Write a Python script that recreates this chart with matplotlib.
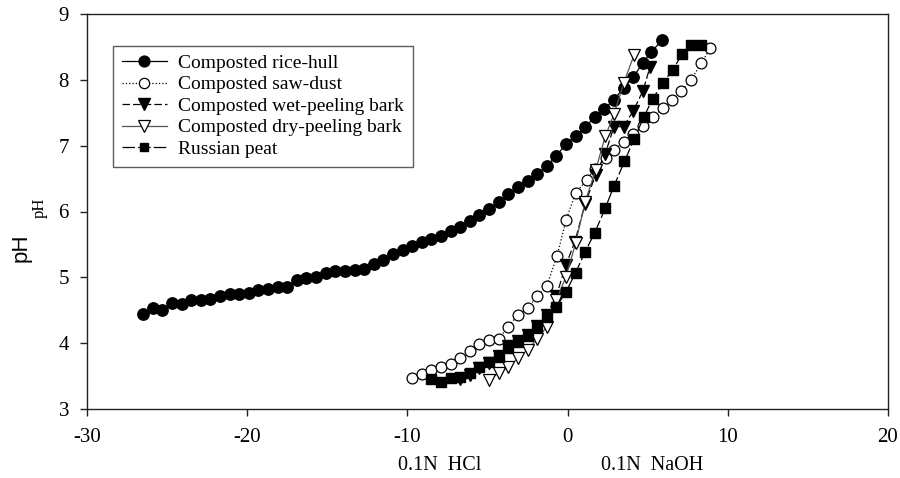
import matplotlib
matplotlib.use("Agg")
import matplotlib.pyplot as plt

# ---- data ----
rice_x = [-26.5, -25.9, -25.3, -24.7, -24.1, -23.5, -22.9, -22.3, -21.7, -21.1,
          -20.5, -19.9, -19.3, -18.7, -18.1, -17.5, -16.9, -16.3, -15.7, -15.1,
          -14.5, -13.9, -13.3, -12.7, -12.1, -11.5, -10.9, -10.3, -9.7, -9.1,
          -8.5, -7.9, -7.3, -6.7, -6.1, -5.5, -4.9, -4.3, -3.7, -3.1,
          -2.5, -1.9, -1.3, -0.7, -0.1, 0.5, 1.1, 1.7, 2.3, 2.9,
          3.5, 4.1, 4.7, 5.2, 5.9]
rice_y = [4.45, 4.53, 4.50, 4.61, 4.60, 4.65, 4.65, 4.67, 4.72, 4.75,
          4.75, 4.76, 4.81, 4.82, 4.86, 4.86, 4.96, 4.99, 5.01, 5.06,
          5.09, 5.09, 5.11, 5.13, 5.21, 5.27, 5.35, 5.41, 5.48, 5.54,
          5.58, 5.63, 5.70, 5.77, 5.86, 5.95, 6.04, 6.15, 6.26, 6.37,
          6.47, 6.57, 6.69, 6.85, 7.02, 7.15, 7.29, 7.43, 7.56, 7.70,
          7.88, 8.04, 8.26, 8.42, 8.60]

saw_x = [-9.7, -9.1, -8.5, -7.9, -7.3, -6.7, -6.1, -5.5, -4.9, -4.3,
         -3.7, -3.1, -2.5, -1.9, -1.3, -0.65, -0.1, 0.5, 1.2, 1.7,
         2.4, 2.9, 3.5, 4.1, 4.7, 5.3, 5.95, 6.5, 7.1, 7.7, 8.35, 8.9]
saw_y = [3.47, 3.53, 3.59, 3.64, 3.69, 3.78, 3.88, 3.98, 4.05, 4.07,
         4.25, 4.43, 4.53, 4.71, 4.87, 5.33, 5.87, 6.28, 6.48, 6.65,
         6.81, 6.94, 7.06, 7.18, 7.30, 7.43, 7.57, 7.70, 7.83, 8.00, 8.25, 8.48]

wet_x = [-6.7, -6.1, -5.5, -4.9, -4.3, -3.7, -3.1, -2.5, -1.9, -1.3,
         -0.7, -0.1, 0.45, 1.1, 1.75, 2.35, 2.9, 3.5, 4.1, 4.7, 5.15]
wet_y = [3.46, 3.52, 3.62, 3.70, 3.80, 3.95, 4.04, 4.13, 4.26, 4.43,
         4.72, 5.19, 5.54, 6.12, 6.56, 6.88, 7.29, 7.29, 7.53, 7.83, 8.20]

dry_x = [-4.9, -4.3, -3.7, -3.1, -2.5, -1.9, -1.3, -0.7, -0.1, 0.5,
         1.1, 1.75, 2.35, 2.9, 3.5, 4.15]
dry_y = [3.44, 3.55, 3.64, 3.77, 3.90, 4.06, 4.25, 4.65, 5.01, 5.52,
         6.15, 6.63, 7.14, 7.48, 7.95, 8.38]

peat_x = [-8.5, -7.9, -7.3, -6.7, -6.1, -5.5, -4.9, -4.3, -3.7, -3.1,
          -2.5, -1.9, -1.3, -0.7, -0.1, 0.5, 1.1, 1.7, 2.35, 2.9,
          3.55, 4.15, 4.75, 5.3, 5.95, 6.55, 7.15, 7.7, 8.3]
peat_y = [3.45, 3.41, 3.47, 3.49, 3.55, 3.64, 3.72, 3.79, 3.92, 4.02,
          4.11, 4.25, 4.39, 4.55, 4.78, 5.07, 5.39, 5.68, 6.05, 6.39,
          6.76, 7.10, 7.43, 7.71, 7.95, 8.15, 8.39, 8.53, 8.53]

labels = ["Composted rice-hull", "Composted saw-dust", "Composted wet-peeling bark",
          "Composted dry-peeling bark", "Russian peat"]
x_ticks = [-30, -20, -10, 0, 10, 20]
y_ticks = [3, 4, 5, 6, 7, 8, 9]

serif = ["Liberation Serif", "DejaVu Serif"]

fig = plt.figure(figsize=(9, 4.78), dpi=100)
ax = fig.add_axes([87 / 900, 1 - 409 / 478, (888 - 87) / 900, (409 - 14) / 478])

lw = 0.9
ax.plot(rice_x, rice_y, '-', color='black', lw=lw, marker='o', ms=8.2,
        mfc='black', mec='black', label=labels[0], zorder=3)
ax.plot(saw_x, saw_y, ':', color='black', lw=lw, marker='o', ms=7.8,
        mfc='white', mec='black', mew=0.9, label=labels[1], zorder=3)
ax.plot(wet_x, wet_y, color='black', lw=lw, dashes=(6, 2.5), marker='v', ms=8.5,
        mfc='black', mec='black', label=labels[2], zorder=4)
ax.plot(dry_x, dry_y, '-', color='#555555', lw=lw, marker='v', ms=8.5,
        mfc='white', mec='black', mew=0.9, label=labels[3], zorder=4)
ax.plot(peat_x, peat_y, color='black', lw=lw, dashes=(10, 2.5), marker='s', ms=6.8,
        mfc='black', mec='black', label=labels[4], zorder=4)

ax.set_xlim(-30, 20)
ax.set_ylim(3, 9)
ax.set_xticks(x_ticks)
ax.set_yticks(y_ticks)
ax.set_xticklabels([str(v) for v in x_ticks], fontfamily=serif, fontsize=15)
ax.set_yticklabels([str(v) for v in y_ticks], fontfamily=serif, fontsize=15)
ax.tick_params(axis='both', direction='out', length=5, width=1, color='#222222')
ax.tick_params(axis='x', pad=9)
ax.tick_params(axis='y', pad=8)
for s in ax.spines.values():
    s.set_linewidth(1.0)
    s.set_color('#222222')

leg = ax.legend(loc='upper left', bbox_to_anchor=(0.0325, 0.92), borderaxespad=0,
                prop={'family': serif, 'size': 14}, frameon=True, fancybox=False,
                handlelength=2.3, handletextpad=0.6, labelspacing=0.2,
                borderpad=0.45, markerscale=0.95)
leg.get_frame().set_edgecolor('#333333')
leg.get_frame().set_linewidth(1.0)

fig.text(21 / 900, 1 - 248 / 478, "pH", rotation=90, ha='center', va='center',
         fontsize=16, family=["Liberation Sans", "DejaVu Sans"])
fig.text(40 / 900, 1 - 208 / 478, "pH", rotation=90, ha='center', va='center',
         fontsize=12, family=serif)
fig.text(440 / 900, 1 - 465 / 478, "0.1N  HCl", ha='center', va='center',
         fontsize=14.5, family=serif)
fig.text(652 / 900, 1 - 465 / 478, "0.1N  NaOH", ha='center', va='center',
         fontsize=14.5, family=serif)

fig.savefig("out.png", dpi=100)
